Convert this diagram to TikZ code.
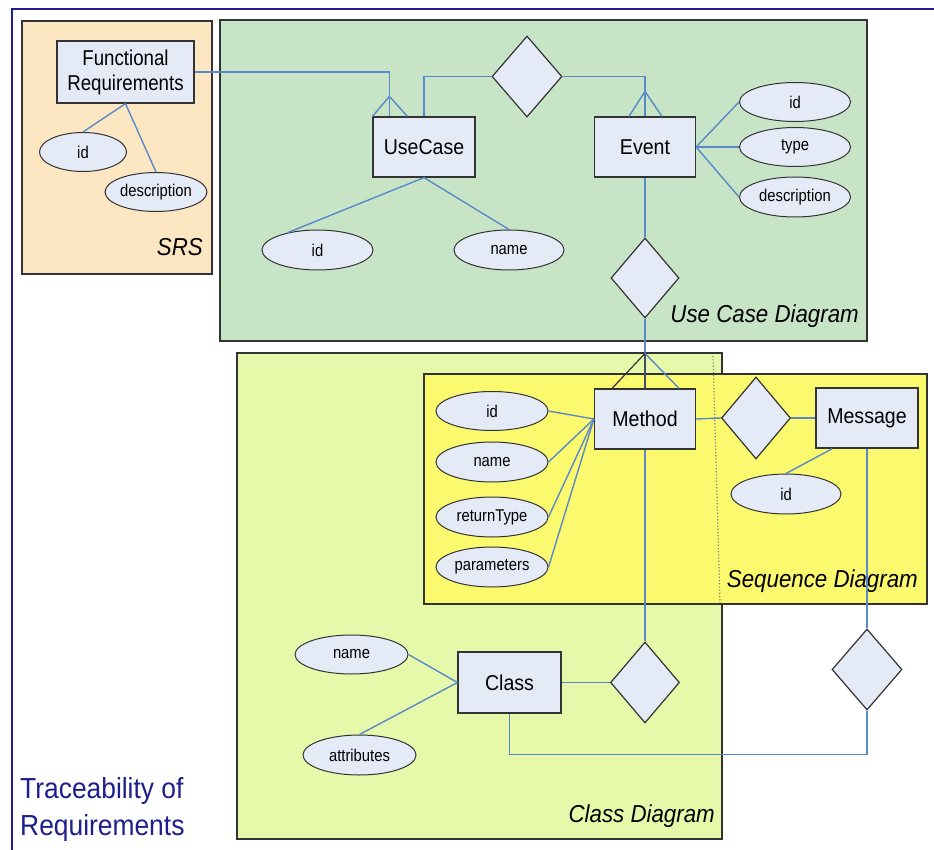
\documentclass[tikz,border=0pt]{standalone}
\usepackage{fontspec}
\setmainfont{Liberation Sans}
\usetikzlibrary{shapes.geometric,calc}

\definecolor{framenavy}{HTML}{1E1E8C}
\definecolor{srsfill}{HTML}{FDE7C3}
\definecolor{ucfill}{HTML}{C7E5C6}
\definecolor{classfill}{HTML}{E6F9AA}
\definecolor{seqfill}{HTML}{FBF96D}
\definecolor{entfill}{HTML}{E4EAF6}
\definecolor{edgegray}{HTML}{333333}
\definecolor{linkblue}{HTML}{5A88C8}

% condensed lettering
\newcommand\cnd[1]{\scalebox{0.87}[1]{#1}}
\newcommand\cndw[1]{\scalebox{0.91}[1]{#1}}

\begin{document}
\begin{tikzpicture}[x=1pt,y=-1pt,
  ent/.style={rectangle, draw=edgegray, fill=entfill, line width=1.2pt, inner sep=0pt,
    minimum width=102pt, minimum height=60pt, font=\fontsize{21.5}{25}\selectfont},
  attr/.style={ellipse, draw=edgegray, fill=entfill, line width=1pt, inner sep=0pt,
    minimum width=111pt, minimum height=39pt, font=\fontsize{17}{20}\selectfont},
  rel/.style={diamond, draw=edgegray, fill=entfill, line width=1.2pt, inner sep=0pt,
    minimum width=69pt, minimum height=81pt},
  link/.style={draw=linkblue, line width=1.4pt},
  region/.style={draw=edgegray, line width=1.2pt},
  reglabel/.style={anchor=base east, inner sep=0pt, font=\itshape\fontsize{24.5}{28}\selectfont}
]
\fill[white] (0,0) rectangle (934,850);
\useasboundingbox (0,0) rectangle (934,850);

% outer frame
\draw[framenavy, line width=2.5pt] (934,9) -- (12,9) -- (12,850);

% regions
\filldraw[region, fill=srsfill] (22,21) rectangle (212,274);
\filldraw[region, fill=ucfill] (220,20) rectangle (867,341);
\filldraw[region, fill=classfill] (237,353) rectangle (722,839);
\filldraw[region, fill=seqfill] (424,374) rectangle (927,604);
\draw[gray, dotted, line width=1.2pt] (713,356) -- (720,603);

% region labels
\node[reglabel] (lbl-srs) at (203,256) {\cndw{SRS}};
\node[reglabel] (lbl-uc) at (859,322) {\cndw{Use Case Diagram}};
\node[reglabel] (lbl-seq) at (918,587) {\cndw{Sequence Diagram}};
\node[reglabel] (lbl-class) at (715,822) {\cndw{Class Diagram}};
\node[anchor=north west, inner sep=0pt, align=left, text=framenavy,
  font=\fontsize{29}{37}\selectfont] (title) at (20,777)
  {\cndw{Traceability of}\\\cndw{Requirements}};

% entities
\node[ent, minimum width=137pt, minimum height=62pt, align=center,
  font=\fontsize{21.5}{25}\selectfont] (fr) at (125.5,72)
  {\cnd{Functional}\\\cnd{Requirements}};
\node[ent] (uc) at (424,147) {\cndw{UseCase}};
\node[ent, minimum width=101pt] (ev) at (645,147) {\cndw{Event}};
\node[ent, minimum width=101pt] (me) at (645,419) {\cndw{Method}};
\node[ent] (ms) at (867,418) {\cndw{Message}};
\node[ent, minimum width=103pt, minimum height=61pt] (cl) at (509.5,682.5) {\cndw{Class}};

% relationships
\node[rel, minimum width=70pt] (d1) at (527,76.5) {};
\node[rel, minimum width=68pt, minimum height=80pt] (d2) at (645,278) {};
\node[rel, minimum height=82pt] (d3) at (756,418) {};
\node[rel] (d4) at (645,682.5) {};
\node[rel, minimum width=70pt] (d5) at (867,669.5) {};

% attributes
\node[attr, minimum width=87pt] (fr-id) at (83,152) {\cnd{id}};
\node[attr, minimum width=102pt] (fr-desc) at (156,192) {\cnd{description}};
\node[attr, minimum height=40pt] (uc-id) at (317.5,250) {\cnd{id}};
\node[attr, minimum width=110pt, minimum height=40pt] (uc-name) at (509,250) {\cnd{name}};
\node[attr] (ev-id) at (795,102) {\cnd{id}};
\node[attr] (ev-type) at (795,147) {\cnd{type}};
\node[attr, minimum height=40pt] (ev-desc) at (795,197) {\cnd{description}};
\node[attr, minimum width=112pt] (m-id) at (492,411) {\cnd{id}};
\node[attr, minimum width=112pt, minimum height=40pt] (m-name) at (492,462) {\cnd{name}};
\node[attr, minimum width=112pt, minimum height=40pt] (m-ret) at (492,517) {\cnd{returnType}};
\node[attr, minimum width=112pt, minimum height=40pt] (m-par) at (492,567) {\cnd{parameters}};
\node[attr, minimum width=110pt, minimum height=40pt] (ms-id) at (786,494) {\cnd{id}};
\node[attr, minimum width=113pt] (cl-name) at (351.5,654.5) {\cnd{name}};
\node[attr, minimum width=113pt, minimum height=40pt] (cl-attr) at (359.5,755) {\cnd{attributes}};

% connectors
\draw[link] (fr.east) -| ($(uc.north west)+(17,0)$);
\draw[link] (uc.north west) -- ($(uc.north west)+(17,-20)$) -- ($(uc.north west)+(35,0)$);
\draw[link] (d1.west) -| (uc.north);
\draw[link] (d1.east) -| (ev.north);
\draw[link] ($(ev.north)+(-16,0)$) -- ($(ev.north)+(0,-25)$) -- ($(ev.north)+(17,0)$);
\draw[link] (fr.south) -- (fr-id.north);
\draw[link] (fr.south) -- (fr-desc.north);
\draw[link] (uc.south) -- (uc-id.150);
\draw[link] (uc.south) -- (uc-name.north);
\draw[link] (ev.east) -- (ev-id.west);
\draw[link] (ev.east) -- (ev-type.west);
\draw[link] (ev.east) -- (ev-desc.west);
\draw[link] (ev.south) -- (d2.north);
\draw[link] (d2.south) -- (me.north);
\draw[edgegray, line width=1.2pt] ($(me.north)+(-33,0)$) -- ($(me.north)+(0,-35)$) -- (me.north);
\draw[link] ($(me.north)+(0,-35)$) -- ($(me.north)+(34,0)$);
\draw[link] (me.west) -- (m-id.east);
\draw[link] (me.west) -- (m-name.east);
\draw[link] (me.west) -- (m-ret.east);
\draw[link] (me.west) -- (m-par.east);
\draw[link] (me.east) -- (d3.west);
\draw[link] (d3.east) -- (ms.west);
\draw[link] ($(ms.south west)+(17,0)$) -- (ms-id.north);
\draw[link] (me.south) -- (d4.north);
\draw[link] (cl.east) -- (d4.west);
\draw[link] (ms.south) -- (d5.north);
\draw[link] (d5.south) -- ++(0,44) -| (cl.south);
\draw[link] (cl.west) -- (cl-name.east);
\draw[link] (cl.west) -- (cl-attr.north);
\end{tikzpicture}
\end{document}
